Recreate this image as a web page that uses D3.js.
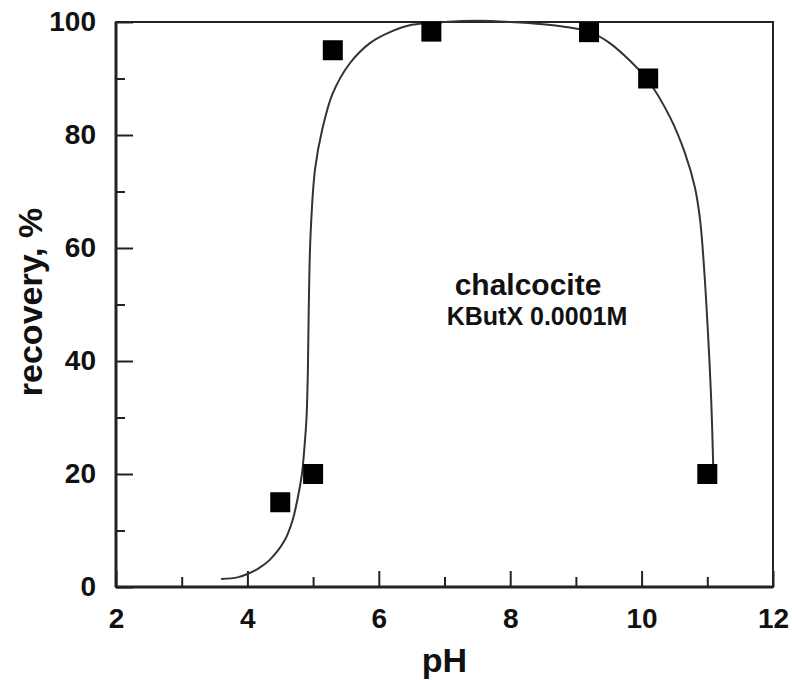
<!DOCTYPE html>
<html>
<head>
<meta charset="utf-8">
<script src="https://cdn.jsdelivr.net/npm/d3@7"></script>
<style>
  body { margin: 0; background: #fff; }
  svg { display: block; }
  text { font-family: "Liberation Sans", Arial, sans-serif; font-weight: bold; fill: #111; }
</style>
</head>
<body>
<div id="chart"></div>
<script>
// measured points
const phPoints = [4.5, 5.0, 5.3, 6.8, 9.2, 10.1, 11.0];
const recoveryPoints = [15, 20, 95, 98.3, 98.2, 90, 20];

// fitted curve
const fitPh = [3.6, 3.85, 4.0, 4.17, 4.34, 4.57, 4.69, 4.77, 4.83, 4.87, 4.9, 4.92, 4.935, 4.96, 5.03, 5.14, 5.3, 5.56, 5.87, 6.17, 6.5, 7.0, 7.5, 8.0, 8.5, 8.85, 9.2, 9.5, 9.8, 10.1, 10.43, 10.66, 10.81, 10.89, 10.95, 11.01, 11.06, 11.09];
const fitRecovery = [1.4, 1.7, 2.3, 3.3, 4.8, 8.3, 11.9, 16, 20, 25, 30, 38, 50, 62, 74, 81, 87.4, 92.7, 96.3, 98.2, 99.5, 100, 100.2, 100, 99.6, 99.1, 98.3, 96.4, 93.4, 89.6, 83.2, 76.8, 70.8, 65, 56.6, 45, 33, 21.5];

const xMajor = [2, 4, 6, 8, 10, 12];
const xMinor = [3, 5, 7, 9, 11];
const yMajor = [0, 20, 40, 60, 80, 100];
const yMinor = [10, 30, 50, 70, 90];

const width = 792, height = 680;
const box = { left: 116, right: 773, top: 22, bottom: 587 };

const svg = d3.select('#chart').append('svg')
  .attr('width', width)
  .attr('height', height);

const x = d3.scaleLinear().domain([2, 12]).range([box.left, box.right]);
const y = d3.scaleLinear().domain([0, 100]).range([box.bottom, box.top]);

// frame
svg.append('rect')
  .attr('x', box.left).attr('y', box.top)
  .attr('width', box.right - box.left).attr('height', box.bottom - box.top)
  .attr('fill', 'none')
  .attr('stroke', '#222')
  .attr('stroke-width', 2);

// x axis, ticks point inward
let gx = svg.append('g')
  .attr('transform', `translate(0, ${box.bottom})`)
  .call(d3.axisBottom(x).tickValues(xMajor).tickSize(-16).tickPadding(21));
gx.select('.domain').remove();
gx.selectAll('line').attr('stroke', '#222').attr('stroke-width', 2);
gx.selectAll('text').style('font-size', '28px').attr('fill', '#111');

let gxm = svg.append('g')
  .attr('transform', `translate(0, ${box.bottom})`)
  .call(d3.axisBottom(x).tickValues(xMinor).tickSize(-10).tickFormat(''));
gxm.select('.domain').remove();
gxm.selectAll('line').attr('stroke', '#222').attr('stroke-width', 2);

// y axis
let gy = svg.append('g')
  .attr('transform', `translate(${box.left}, 0)`)
  .call(d3.axisLeft(y).tickValues(yMajor).tickSize(-17).tickPadding(20));
gy.select('.domain').remove();
gy.selectAll('line').attr('stroke', '#222').attr('stroke-width', 2);
gy.selectAll('text').style('font-size', '28px').attr('fill', '#111');

let gym = svg.append('g')
  .attr('transform', `translate(${box.left}, 0)`)
  .call(d3.axisLeft(y).tickValues(yMinor).tickSize(-9).tickFormat(''));
gym.select('.domain').remove();
gym.selectAll('line').attr('stroke', '#222').attr('stroke-width', 2);

// thicker left/bottom axis lines
svg.append('line')
  .attr('x1', box.left).attr('x2', box.left).attr('y1', box.top).attr('y2', box.bottom)
  .attr('stroke', '#222').attr('stroke-width', 3);
svg.append('line')
  .attr('x1', box.left).attr('x2', box.right).attr('y1', box.bottom).attr('y2', box.bottom)
  .attr('stroke', '#222').attr('stroke-width', 3);

// fitted curve
const fit = fitPh.map((p, i) => ({ a: p, b: fitRecovery[i] }));
const line = d3.line()
  .x(d => x(d.a))
  .y(d => y(d.b))
  .curve(d3.curveCatmullRom.alpha(0.5));

svg.append('path')
  .datum(fit)
  .attr('fill', 'none')
  .attr('stroke', '#333')
  .attr('stroke-width', 2)
  .attr('d', line);

// squares
const sq = 20;
svg.selectAll('rect.point')
  .data(phPoints.map((p, i) => ({ a: p, b: recoveryPoints[i] })))
  .enter().append('rect')
  .attr('class', 'point')
  .attr('x', d => x(d.a) - sq / 2)
  .attr('y', d => y(d.b) - sq / 2)
  .attr('width', sq)
  .attr('height', sq)
  .attr('fill', '#000');

// titles
svg.append('text')
  .attr('x', (box.left + box.right) / 2)
  .attr('y', 672)
  .attr('text-anchor', 'middle')
  .style('font-size', '34px')
  .text('pH');

svg.append('text')
  .attr('transform', 'translate(42, 302) rotate(-90)')
  .attr('text-anchor', 'middle')
  .style('font-size', '34px')
  .text('recovery, %');

// annotation
svg.append('text')
  .attr('x', 528)
  .attr('y', 295)
  .attr('text-anchor', 'middle')
  .style('font-size', '30px')
  .text('chalcocite');

svg.append('text')
  .attr('x', 537)
  .attr('y', 325)
  .attr('text-anchor', 'middle')
  .style('font-size', '25px')
  .text('KButX 0.0001M');
</script>
</body>
</html>
